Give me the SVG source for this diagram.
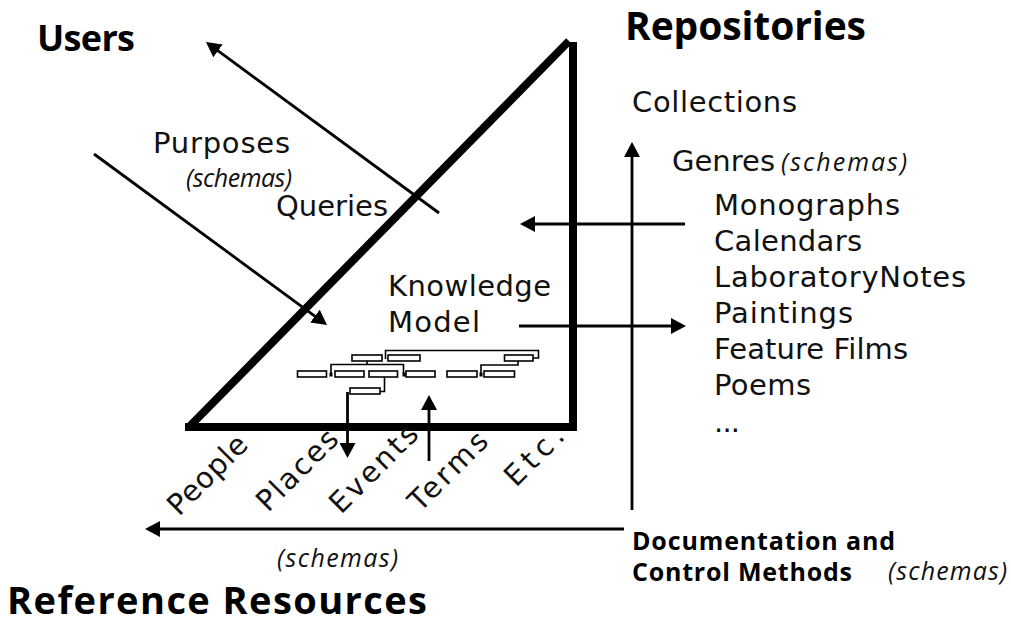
<svg xmlns="http://www.w3.org/2000/svg" width="1011" height="624" viewBox="0 0 1011 624">
  <style>
    .reg { font-family: "DejaVu Sans", "Liberation Sans", sans-serif; font-size: 29px; fill: #111; }
    .it { font-family: "Open Sans", "Liberation Sans", sans-serif; font-style: italic; font-size: 25px; fill: #111; }
    .bold { font-family: "Open Sans", "Liberation Sans", sans-serif; font-weight: bold; fill: #000; }
    .edge { stroke: #000; stroke-width: 8; fill: none; stroke-linecap: butt; }
    .arrow { stroke: #000; stroke-width: 2.8; fill: none; marker-end: url(#ah); }
    .box { fill: #fff; stroke: #000; stroke-width: 1.6; }
    .link { fill: none; stroke: #000; stroke-width: 1.6; }
  </style>
  <defs>
    <marker id="ah" viewBox="0 0 15 16" refX="7" refY="8" markerWidth="15" markerHeight="16" markerUnits="userSpaceOnUse" orient="auto">
      <path d="M0,0 L15,8 L0,16 Z" fill="#000"/>
    </marker>
  </defs>
  <rect width="1011" height="624" fill="#fff"/>

  <!-- corner headings -->
  <g id="users">
    <text class="bold" x="37" y="51" font-size="36" textLength="98">Users</text>
  </g>
  <g id="repositories">
    <text class="bold" x="625" y="40" font-size="39" textLength="241">Repositories</text>
  </g>
  <g id="reference-resources">
    <text class="bold" x="7" y="614" font-size="38" textLength="420">Reference Resources</text>
  </g>

  <!-- knowledge model triangle -->
  <g id="knowledge-model">
    <line class="edge" x1="185" y1="427" x2="577" y2="427"/>
    <line class="edge" x1="573" y1="42" x2="573" y2="431"/>
    <line class="edge" x1="189" y1="427" x2="569" y2="41"/>
    <text class="reg" x="388" y="296" textLength="163">Knowledge</text>
    <text class="reg" x="388" y="332" textLength="92">Model</text>
  </g>

  <!-- small schema tree inside the model -->
  <g id="schema-tree">
    <path class="link" d="M385.5,359 V350.5 H538.5 V358 H533"/>
    <path class="link" d="M367,361 V364.5 M331,374 V364.5 H403.5 V374"/>
    <path class="link" d="M384.5,377 V391.5 H380"/>
    <path class="link" d="M518,361 V365 H481 V374"/>
    <rect x="329.5" y="372.5" width="3" height="4" fill="#000"/>
    <rect x="402.5" y="372.5" width="3" height="4" fill="#000"/>
    <rect x="479.5" y="372.5" width="3" height="4" fill="#000"/>
    <rect class="box" x="352" y="355" width="30" height="6"/>
    <rect class="box" x="388" y="355" width="32" height="6"/>
    <rect class="box" x="504.5" y="355" width="28.5" height="6"/>
    <rect class="box" x="297.5" y="371" width="29" height="6"/>
    <rect class="box" x="335" y="371" width="29" height="6"/>
    <rect class="box" x="369" y="371" width="28.5" height="6"/>
    <rect class="box" x="406" y="371" width="29" height="6"/>
    <rect class="box" x="447" y="371" width="30" height="6"/>
    <rect class="box" x="484" y="371" width="30.5" height="6"/>
    <rect class="box" x="350" y="388" width="30" height="6"/>
  </g>

  <!-- user side labels -->
  <g id="purposes">
    <text class="reg" x="153" y="153" textLength="137">Purposes</text>
    <text class="it" x="186" y="187" font-size="21" textLength="106">(schemas)</text>
  </g>
  <g id="queries">
    <text class="reg" x="276" y="216" textLength="112">Queries</text>
  </g>

  <!-- repository side labels -->
  <g id="collections">
    <text class="reg" x="632" y="112" textLength="165">Collections</text>
  </g>
  <g id="genres">
    <text class="reg" x="672" y="171" textLength="103">Genres</text>
    <text class="it" x="781" y="171" textLength="126">(schemas)</text>
    <text class="reg" x="714" y="215" textLength="186">Monographs</text>
    <text class="reg" x="714" y="251" textLength="148">Calendars</text>
    <text class="reg" x="714" y="287" textLength="252">LaboratoryNotes</text>
    <text class="reg" x="714" y="323" textLength="139">Paintings</text>
    <text class="reg" x="714" y="359" textLength="194">Feature Films</text>
    <text class="reg" x="714" y="395" textLength="97">Poems</text>
    <text class="reg" x="714" y="432" textLength="26">...</text>
  </g>

  <!-- reference resource kinds -->
  <g id="resource-kinds">
    <text class="reg" transform="translate(179,517) rotate(-45)" textLength="100">People</text>
    <text class="reg" transform="translate(268,513) rotate(-45)" textLength="102">Places</text>
    <text class="reg" transform="translate(341,515) rotate(-45)" textLength="112">Events</text>
    <text class="reg" transform="translate(420,513) rotate(-45)" textLength="99">Terms</text>
    <text class="reg" transform="translate(516,488) rotate(-45)" textLength="71">Etc.</text>
    <text class="it" x="277" y="567" textLength="121">(schemas)</text>
  </g>

  <g id="documentation">
    <text class="bold" x="632" y="550" font-size="25" textLength="263">Documentation and</text>
    <text class="bold" x="632" y="581" font-size="25" textLength="220">Control Methods</text>
    <text class="it" x="888" y="580" textLength="119">(schemas)</text>
  </g>

  <!-- connectors -->
  <g id="connectors">
    <line class="arrow" x1="439" y1="213" x2="212.4" y2="46.7"/>
    <line class="arrow" x1="94" y1="154" x2="320.6" y2="320.3"/>
    <line class="arrow" x1="685" y1="224" x2="528" y2="224"/>
    <line class="arrow" x1="519" y1="326" x2="678" y2="326"/>
    <line class="arrow" x1="632" y1="510" x2="632" y2="150"/>
    <line class="arrow" x1="624" y1="529" x2="153" y2="529"/>
    <line class="arrow" x1="347.5" y1="392" x2="347.5" y2="450"/>
    <line class="arrow" x1="429" y1="461" x2="429" y2="403"/>
  </g>
</svg>
